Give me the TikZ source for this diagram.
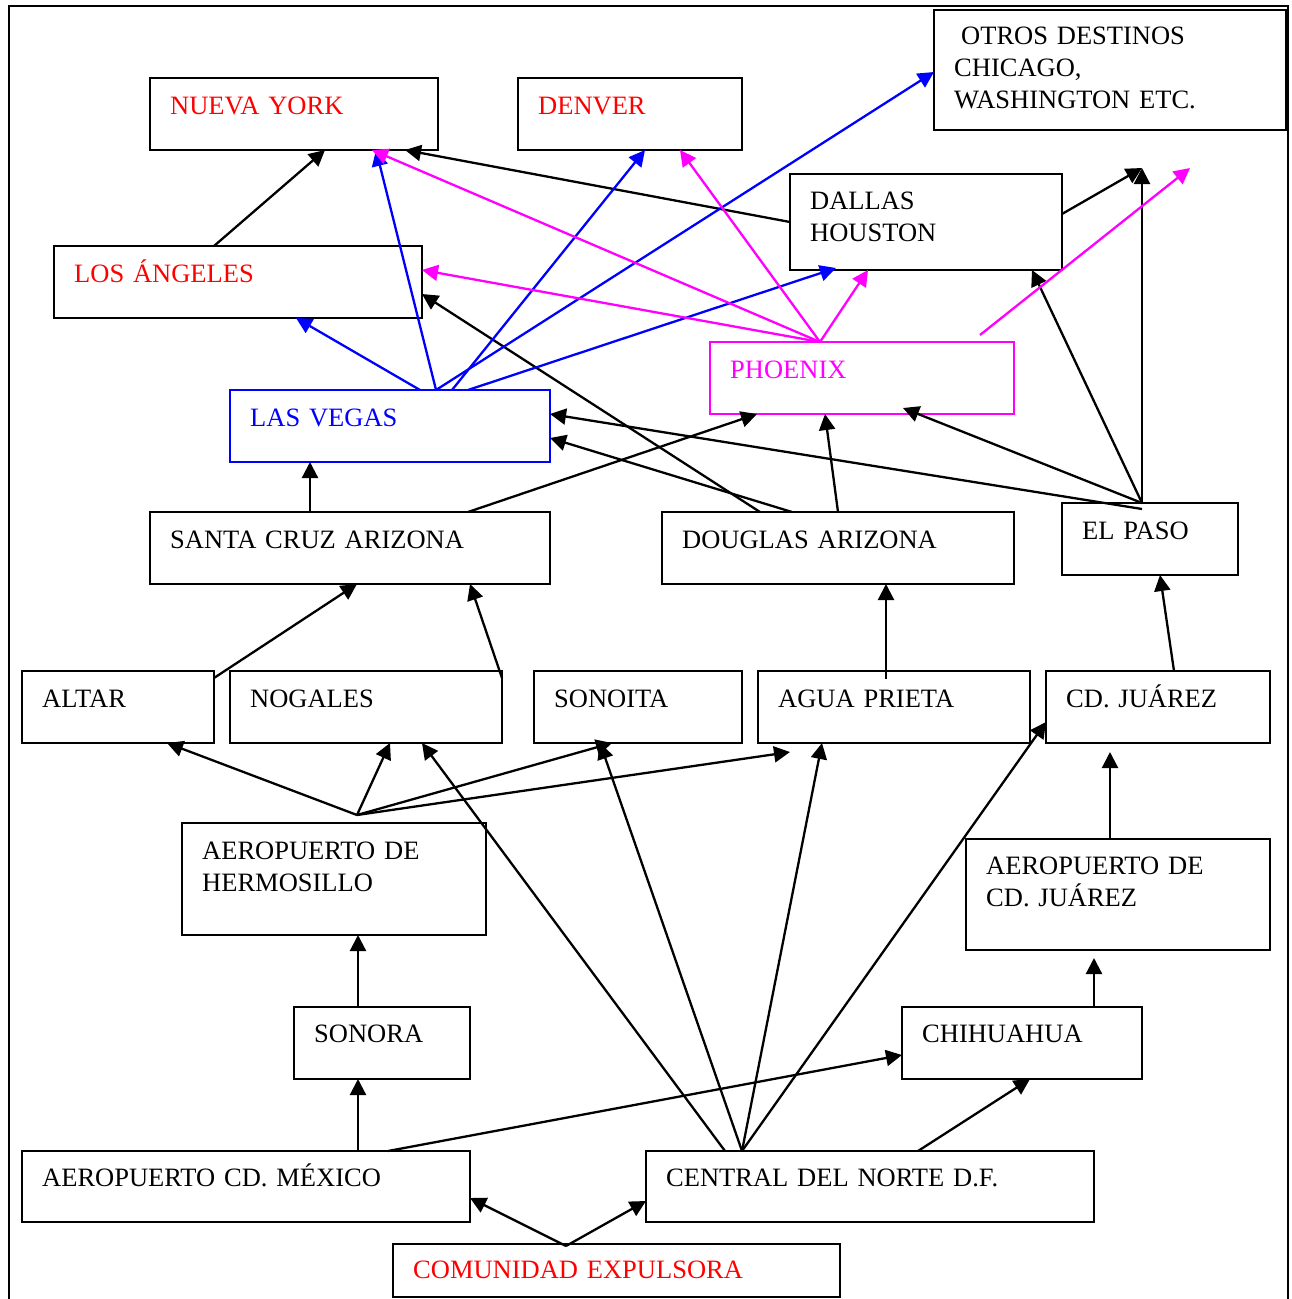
\documentclass[tikz,border=0pt]{standalone}
\usepackage{fontspec}
\setmainfont{Liberation Serif}
\usetikzlibrary{arrows.meta, calc}
\definecolor{fuchsia}{RGB}{255,0,255}
\tikzset{
  box/.style={draw, line width=2pt, anchor=north west, outer sep=0pt, inner sep=0pt},
  boxtext/.style={anchor=base west, xshift=20pt, yshift=-36pt, inner sep=0pt, text width=420pt, align=left},
  link/.style={line width=2.3pt, -{Triangle[length=16pt,width=16pt]}},
}

\begin{document}
\begin{tikzpicture}[x=1pt, y=-1pt, font=\fontsize{26.5}{32}\selectfont]
\useasboundingbox (0,0) rectangle (1291,1299);
\draw[line width=1.5pt] (9,1299) -- (9,6) -- (1288,6) -- (1288,1299);

% destinos
\node (nueva york) [box, minimum width=288pt, minimum height=72pt, label={[boxtext, text=red]north west:NUEVA YORK}] at (150,78) {};
\node (denver) [box, minimum width=224pt, minimum height=72pt, label={[boxtext, text=red]north west:DENVER}] at (518,78) {};
\node (otros) [box, minimum width=352pt, minimum height=120pt, label={[boxtext, yshift=2pt]north west:{\hspace*{7pt}OTROS DESTINOS\\CHICAGO,\\WASHINGTON ETC.}}] at (934,10) {};
\node (los angeles) [box, minimum width=368pt, minimum height=72pt, label={[boxtext, text=red]north west:LOS ÁNGELES}] at (54,246) {};
\node (dallas) [box, minimum width=272pt, minimum height=96pt, label={[boxtext, yshift=1pt]north west:{DALLAS\\HOUSTON}}] at (790,174) {};
\node (phoenix) [box, draw=fuchsia, minimum width=304pt, minimum height=72pt, label={[boxtext, text=fuchsia]north west:PHOENIX}] at (710,342) {};
\node (las vegas) [box, draw=blue, minimum width=320pt, minimum height=72pt, label={[boxtext, text=blue]north west:LAS VEGAS}] at (230,390) {};

% frontera
\node (santa cruz) [box, minimum width=400pt, minimum height=72pt, label={[boxtext]north west:SANTA CRUZ ARIZONA}] at (150,512) {};
\node (douglas) [box, minimum width=352pt, minimum height=72pt, label={[boxtext]north west:DOUGLAS ARIZONA}] at (662,512) {};
\node (el paso) [box, minimum width=176pt, minimum height=72pt, label={[boxtext]north west:EL PASO}] at (1062,503) {};
\node (altar) [box, minimum width=192pt, minimum height=72pt, label={[boxtext]north west:ALTAR}] at (22,671) {};
\node (nogales) [box, minimum width=272pt, minimum height=72pt, label={[boxtext]north west:NOGALES}] at (230,671) {};
\node (sonoita) [box, minimum width=208pt, minimum height=72pt, label={[boxtext]north west:SONOITA}] at (534,671) {};
\node (agua prieta) [box, minimum width=272pt, minimum height=72pt, label={[boxtext]north west:AGUA PRIETA}] at (758,671) {};
\node (cd juarez) [box, minimum width=224pt, minimum height=72pt, label={[boxtext]north west:CD. JUÁREZ}] at (1046,671) {};

% origen
\node (aero hermosillo) [box, minimum width=304pt, minimum height=112pt, label={[boxtext]north west:{AEROPUERTO DE\\HERMOSILLO}}] at (182,823) {};
\node (aero juarez) [box, minimum width=304pt, minimum height=111pt, label={[boxtext, yshift=1pt]north west:{AEROPUERTO DE\\CD. JUÁREZ}}] at (966,839) {};
\node (sonora) [box, minimum width=176pt, minimum height=72pt, label={[boxtext, yshift=1pt]north west:SONORA}] at (294,1007) {};
\node (chihuahua) [box, minimum width=240pt, minimum height=72pt, label={[boxtext, yshift=1pt]north west:CHIHUAHUA}] at (902,1007) {};
\node (aero mexico) [box, minimum width=448pt, minimum height=71pt, label={[boxtext, yshift=1pt]north west:AEROPUERTO CD. MÉXICO}] at (22,1151) {};
\node (central norte) [box, minimum width=448pt, minimum height=71pt, label={[boxtext, yshift=1pt]north west:CENTRAL DEL NORTE D.F.}] at (646,1151) {};
\node (comunidad) [box, minimum width=447pt, minimum height=53pt, label={[boxtext, yshift=2pt, text=red]north west:COMUNIDAD EXPULSORA}] at (393,1244) {};

\coordinate (otros tip) at (1142,168);
\coordinate (fuchsia tip) at (1190,168);
\coordinate (paso hub) at ($(el paso.north west)+(80,0)$);
\coordinate (vegas hub) at ($(las vegas.north west)+(206,0)$);
\coordinate (phoenix hub) at ($(phoenix.north west)+(110,0)$);
\coordinate (hermosillo hub) at ($(aero hermosillo.north west)+(175,-8)$);
\coordinate (central hub) at ($(central norte.north west)+(96,0)$);
\coordinate (comunidad hub) at ($(comunidad.north west)+(173,2)$);

% negro
\path ($(los angeles.north west)+(160,0)$) edge[link] ($(nueva york.south west)+(175,0)$)
      ($(dallas.north west)+(0,48)$) edge[link] ($(nueva york.south west)+(255,0)$)
      ($(dallas.north east)+(0,40)$) edge[link] (otros tip)
      (paso hub) edge[link] (otros tip)
      (paso hub) edge[link] ($(dallas.south east)+(-30,0)$)
      (paso hub) edge[link] ($(phoenix.south west)+(193,-6)$)
      ($(el paso.north west)+(80,6)$) edge[link] ($(las vegas.north east)+(0,24)$)
      ($(douglas.north west)+(130,0)$) edge[link] ($(las vegas.north east)+(0,48)$)
      ($(douglas.north west)+(98,0)$) edge[link] ($(los angeles.north east)+(0,48)$)
      ($(douglas.north west)+(176,0)$) edge[link] ($(phoenix.south west)+(115,0)$)
      ($(santa cruz.north west)+(318,0)$) edge[link] ($(phoenix.south west)+(47,0)$)
      ($(santa cruz.north west)+(160,0)$) edge[link] ($(las vegas.south west)+(80,0)$)
      ($(altar.north east)+(0,7)$) edge[link] ($(santa cruz.south west)+(207,0)$)
      ($(nogales.north east)+(0,7)$) edge[link] ($(santa cruz.south west)+(320,0)$)
      ($(agua prieta.north west)+(128,8)$) edge[link] ($(douglas.south west)+(224,0)$)
      ($(cd juarez.north west)+(128,0)$) edge[link] ($(el paso.south west)+(98,0)$);

\path (hermosillo hub) edge[link] ($(altar.south west)+(145,0)$)
                       edge[link] ($(nogales.south west)+(160,0)$)
                       edge[link] ($(sonoita.south west)+(78,0)$)
                       edge[link] ($(agua prieta.south west)+(32,9)$);
\path ($(sonora.north west)+(64,0)$) edge[link] ($(aero hermosillo.south west)+(176,0)$)
      ($(aero mexico.north west)+(336,0)$) edge[link] ($(sonora.south west)+(64,0)$)
      ($(aero mexico.north west)+(366,0)$) edge[link] ($(chihuahua.north west)+(0,48)$)
      ($(central norte.north west)+(79,0)$) edge[link] ($(nogales.south west)+(192,0)$)
      (central hub) edge[link] ($(sonoita.south west)+(66,0)$)
      (central hub) edge[link] ($(agua prieta.south west)+(64,0)$)
      (central hub) edge[link] ($(cd juarez.south west)+(0,-21)$)
      ($(central norte.north west)+(272,0)$) edge[link] ($(chihuahua.south west)+(128,0)$)
      ($(chihuahua.north west)+(192,0)$) edge[link] ($(aero juarez.south west)+(128,8)$)
      ($(aero juarez.north west)+(144,0)$) edge[link] ($(cd juarez.south west)+(64,9)$)
      (comunidad hub) edge[link] ($(aero mexico.north east)+(0,47)$)
      (comunidad hub) edge[link] ($(central norte.north west)+(0,50)$);

% azul
\path[blue] ($(las vegas.north west)+(190,0)$) edge[link] ($(los angeles.south west)+(242,0)$)
            (vegas hub) edge[link] ($(nueva york.south west)+(226,0)$)
            ($(las vegas.north west)+(222,0)$) edge[link] ($(denver.south west)+(127,0)$)
            (vegas hub) edge[link] ($(otros.north west)+(0,62)$)
            ($(las vegas.north west)+(238,0)$) edge[link] ($(dallas.south west)+(46,-2)$);

% fucsia
\path[fuchsia] (phoenix hub) edge[link] ($(nueva york.south west)+(222,0)$)
                             edge[link] ($(los angeles.north east)+(0,24)$)
                             edge[link] ($(denver.south west)+(162,0)$)
                             edge[link] ($(dallas.south west)+(78,0)$)
               ($(phoenix.north west)+(270,-7)$) edge[link] (fuchsia tip);
\end{tikzpicture}
\end{document}
